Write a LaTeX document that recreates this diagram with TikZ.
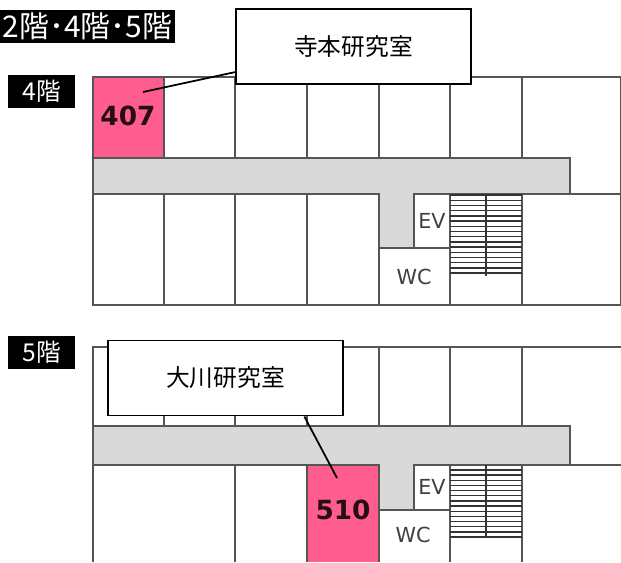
\documentclass[tikz,border=0pt]{standalone}
\usepackage{fontspec}
\setmainfont{DejaVu Sans}
\newfontfamily\jpfont{Noto Sans CJK JP}
\definecolor{wallgray}{HTML}{555555}
\definecolor{hallgray}{HTML}{D9D9D9}
\definecolor{roompink}{HTML}{FF5C90}

\begin{document}
\begin{tikzpicture}
  [x=0.02cm,y=-0.02cm,
   wall/.style={draw=wallgray,line width=1pt},
   tread/.style={draw=black!80,line width=0.8pt},
   hall/.style={wall,fill=hallgray},
   room/.style={wall,fill=roompink},
   floortag/.style={fill=black,text=white,inner sep=0pt,font=\jpfont\fontsize{14}{14}\selectfont},
   callout/.style={draw=black,fill=white,line width=1.1pt,inner sep=0pt,minimum width=4.7cm,minimum height=1.5cm,font=\jpfont\fontsize{13.5}{13.5}\selectfont},
   roomnum/.style={inner sep=0pt,text=black!85!roompink,font=\bfseries\fontsize{15}{15}\selectfont},
   facility/.style={inner sep=0pt,text=black!75,font=\fontsize{11.8}{11.8}\selectfont}]
  \useasboundingbox (0,0) rectangle (621,562);

  % 4th floor
  \draw[wall] (93,77) rectangle (621,305);
  \foreach \x in {164,235,307,379,450,522}
    \draw[wall] (\x,77) -- (\x,158);
  \foreach \x in {164,235,307,379,450,522}
    \draw[wall] (\x,194) -- (\x,305);
  \draw[wall] (93,194) -- (621,194);
  \draw[hall] (93,158) -- (570,158) -- (570,194) -- (414,194) -- (414,248) -- (379,248) -- (379,194) -- (93,194) -- cycle;
  \draw[wall] (379,248) -- (450,248);
  \draw[room] (93,77) rectangle (164,158);
  \foreach \y in {0,...,15}
    \draw[tread] (450,195+5.2*\y) -- (522,195+5.2*\y);
  \draw[tread] (486,194) -- (486,276);

  % 5th floor
  \draw[wall] (93,562) -- (93,347) -- (621,347);
  \foreach \x in {164,235,307,379,450,522}
    \draw[wall] (\x,347) -- (\x,426);
  \foreach \x in {235,450,522}
    \draw[wall] (\x,465) -- (\x,562);
  \draw[wall] (93,465) -- (621,465);
  \draw[hall] (93,426) -- (570,426) -- (570,465) -- (414,465) -- (414,510) -- (379,510) -- (379,465) -- (93,465) -- cycle;
  \draw[wall] (379,510) -- (450,510);
  \fill[roompink] (307,465) rectangle (379,562);
  \draw[wall] (307,562) -- (307,465) -- (379,465) -- (379,562);
  \foreach \y in {0,...,13}
    \draw[tread] (450,470+5.15*\y) -- (522,470+5.15*\y);
  \draw[tread] (486,465) -- (486,538);

  \node[roomnum] (n407) at (128,116) {407};
  \node[roomnum] (n510) at (343,510) {510};
  \node[facility] (ev4) at (432,221) {EV};
  \node[facility] (wc4) at (414,277) {WC};
  \node[facility] (ev5) at (432,487) {EV};
  \node[facility] (wc5) at (413,535) {WC};

  \node[floortag,minimum width=3.5cm,minimum height=0.66cm] (title) at (87.5,26.5) {\fontsize{17}{17}\selectfont 2階･4階･5階};
  \node[floortag,minimum width=1.34cm,minimum height=0.66cm] (tag4) at (41.5,91.5) {4階};
  \node[floortag,minimum width=1.34cm,minimum height=0.66cm] (tag5) at (41.5,352.5) {5階};

  \node[callout] (lab407) at (353.5,46.5) {寺本研究室};
  \node[callout] (lab510) at (225.5,378) {大川研究室};

  \coordinate (pt407) at (143,92);
  \coordinate (pt510) at (337,478);
  \draw[line width=1pt] (lab407) -- (pt407);
  \draw[line width=1pt] (lab510.-26) -- (pt510);

\end{tikzpicture}
\end{document}
